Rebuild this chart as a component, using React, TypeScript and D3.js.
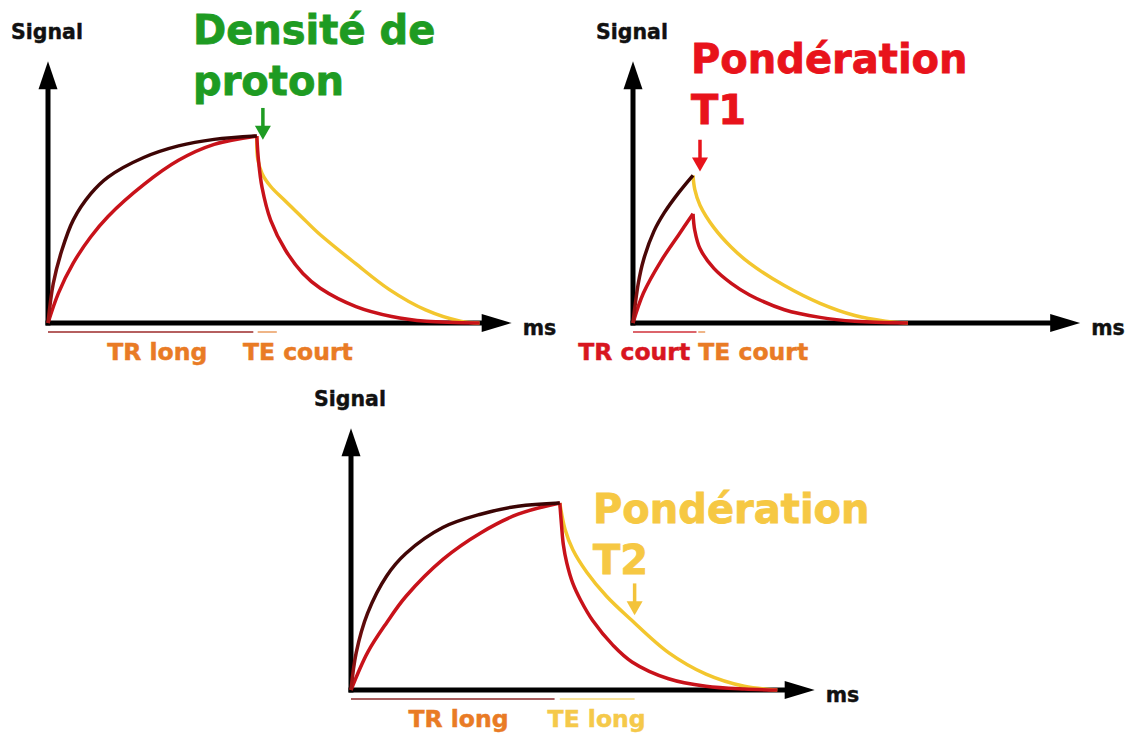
import * as d3 from "d3";

// x in arbitrary ms units, y = signal (1 = full magnetisation)
type Pt = [number, number];

const p1Dark: Pt[] = [[0, 0], [6, 0.21], [16, 0.39], [29, 0.55], [49, 0.69], [69, 0.78], [110, 0.885], [150, 0.947], [191, 0.982], [240, 1]];
const p1Red: Pt[] = [[0, 0], [12, 0.16], [29, 0.32], [49, 0.46], [69, 0.57], [110, 0.74], [150, 0.87], [191, 0.955], [240, 1]];
const p1RedDecay: Pt[] = [[240, 1], [242, 0.867], [246, 0.726], [256, 0.549], [273, 0.389], [293, 0.265], [313, 0.186], [354, 0.088], [395, 0.035], [435, 0.009], [496, 0]];
const p1YellowDecay: Pt[] = [[240, 1], [241, 0.88], [246, 0.8], [256, 0.73], [271, 0.66], [291, 0.57], [311, 0.48], [353, 0.32], [392, 0.18], [434, 0.07], [474, 0.01], [496, 0]];

const p2Dark: Pt[] = [[0, 0], [6, 0.21], [12, 0.336], [24, 0.49], [36, 0.59], [53, 0.7], [69, 0.79]];
const p2Red: Pt[] = [[0, 0], [12, 0.16], [32, 0.33], [53, 0.475], [69, 0.584]];
const p2RedDecay: Pt[] = [[69, 0.584], [71, 0.496], [77, 0.398], [93, 0.292], [113, 0.212], [134, 0.15], [174, 0.071], [215, 0.03], [255, 0.009], [316, 0]];
const p2YellowDecay: Pt[] = [[69, 0.79], [71, 0.715], [77, 0.63], [93, 0.51], [113, 0.405], [134, 0.32], [174, 0.2], [215, 0.105], [255, 0.04], [290, 0.01], [316, 0]];

const p3Dark: Pt[] = [[0, 0], [6, 0.2], [19, 0.41], [41, 0.61], [63, 0.73], [106, 0.87], [149, 0.94], [192, 0.983], [240, 1]];
const p3Red: Pt[] = [[0, 0], [19, 0.2], [41, 0.36], [63, 0.5], [106, 0.7], [149, 0.84], [192, 0.94], [240, 1]];
const p3RedDecay: Pt[] = [[240, 1], [242, 0.88], [244, 0.78], [248, 0.68], [255, 0.57], [264, 0.48], [278, 0.37], [301, 0.24], [323, 0.15], [365, 0.06], [408, 0.02], [452, 0.005], [490, 0]];
const p3YellowDecay: Pt[] = [[240, 1], [246, 0.86], [255, 0.75], [271, 0.63], [294, 0.5], [321, 0.38], [365, 0.2], [408, 0.085], [452, 0.02], [490, 0]];

const FONT = "'DejaVu Sans', Verdana, sans-serif";
const DARK = "#4a0808";
const RED = "#c8121a";
const YELLOW = "#f3c62e";
const ORANGE = "#e97b25";

const x = d3.scaleLinear().domain([0, 500]).range([0, 435]);
const y = d3.scaleLinear().domain([0, 1]).range([0, -187]);
const line = d3
  .line<Pt>()
  .x((d) => x(d[0]))
  .y((d) => y(d[1]))
  .curve(d3.curveCatmullRom.alpha(0.5));

type Seg = { from: number; to: number; color: string };
type Lbl = { text: string; at: number; color: string };
type Title = { lines: string[]; dx: number; dy: number; color: string };

type Panel = {
  id: string;
  ox: number;
  oy: number;
  axisEnd: number;
  dark: Pt[];
  red: Pt[];
  redDecay: Pt[];
  yellowDecay: Pt[];
  underlines: Seg[];
  labels: Lbl[];
  title: Title;
  arrow: { at: number; top: number; tip: number; color: string };
};

const panels: Panel[] = [
  {
    id: "p1",
    ox: 48,
    oy: 323,
    axisEnd: 533,
    dark: p1Dark,
    red: p1Red,
    redDecay: p1RedDecay,
    yellowDecay: p1YellowDecay,
    underlines: [
      { from: 0, to: 236, color: "#9c2a2a" },
      { from: 241, to: 263, color: "#eca36a" },
    ],
    labels: [
      { text: "TR long", at: 68, color: ORANGE },
      { text: "TE court", at: 224, color: ORANGE },
    ],
    title: { lines: ["Densité de", "proton"], dx: 145, dy: -279, color: "#1e9b22" },
    arrow: { at: 247, top: 1.15, tip: 0.98, color: "#1e9b22" },
  },
  {
    id: "p2",
    ox: 633,
    oy: 323,
    axisEnd: 514,
    dark: p2Dark,
    red: p2Red,
    redDecay: p2RedDecay,
    yellowDecay: p2YellowDecay,
    underlines: [
      { from: 0, to: 73, color: "#d0303a" },
      { from: 75, to: 83, color: "#eca36a" },
    ],
    labels: [
      { text: "TR court", at: -63, color: "#d8161f" },
      { text: "TE court", at: 75, color: ORANGE },
    ],
    title: { lines: ["Pondération", "T1"], dx: 58, dy: -250, color: "#e8131b" },
    arrow: { at: 77, top: 0.98, tip: 0.81, color: "#e8131b" },
  },
  {
    id: "p3",
    ox: 351,
    oy: 690,
    axisEnd: 533,
    dark: p3Dark,
    red: p3Red,
    redDecay: p3RedDecay,
    yellowDecay: p3YellowDecay,
    underlines: [
      { from: 0, to: 234, color: "#8c2a2a" },
      { from: 240, to: 326, color: "#f5d878" },
    ],
    labels: [
      { text: "TR long", at: 66, color: ORANGE },
      { text: "TE long", at: 226, color: "#f5c94a" },
    ],
    title: { lines: ["Pondération", "T2"], dx: 242, dy: -167, color: "#f6c843" },
    arrow: { at: 326, top: 0.57, tip: 0.4, color: "#f3c33a" },
  },
];

const Y_TIP = 1.4;

const PanelChart = ({ p }: { p: Panel }) => {
  const xEnd = x(p.axisEnd);
  const yTop = y(Y_TIP);
  const ax = x(p.arrow.at);
  const aTop = y(p.arrow.top);
  const aTip = y(p.arrow.tip);
  return (
    <g transform={`translate(${p.ox},${p.oy})`}>
      {/* axes */}
      <line x1={0} y1={2.5} x2={0} y2={yTop + 26} stroke="#000" strokeWidth={5} />
      <path d={`M0,${yTop} L${-9.5},${yTop + 28} L9.5,${yTop + 28} Z`} fill="#000" />
      <line x1={-2.5} y1={0} x2={xEnd - 27} y2={0} stroke="#000" strokeWidth={5} />
      <path d={`M${xEnd},0 L${xEnd - 30},${-9} L${xEnd - 30},9 Z`} fill="#000" />
      <text x={-37} y={yTop - 22} fontFamily={FONT} fontWeight="bold" fontSize={20.5} fill="#111" stroke="#111" strokeWidth={0.4}>
        Signal
      </text>
      <text x={xEnd + 11} y={12} fontFamily={FONT} fontWeight="bold" fontSize={20.5} fill="#111" stroke="#111" strokeWidth={0.4}>
        ms
      </text>

      {/* curves */}
      <path d={line(p.yellowDecay) ?? ""} fill="none" stroke={YELLOW} strokeWidth={3.5} />
      <path d={line(p.redDecay) ?? ""} fill="none" stroke={RED} strokeWidth={3.5} />
      <path d={line(p.red) ?? ""} fill="none" stroke={RED} strokeWidth={3.5} />
      <path d={line(p.dark) ?? ""} fill="none" stroke={`url(#dark-${p.id})`} strokeWidth={3.5} />

      {/* TR / TE markers */}
      {p.underlines.map((s, i) => (
        <line key={i} x1={x(s.from)} x2={x(s.to)} y1={9} y2={9} stroke={s.color} strokeWidth={1.6} />
      ))}
      {p.labels.map((l) => (
        <text key={l.text} x={x(l.at)} y={37} fontFamily={FONT} fontWeight="bold" fontSize={23.5} fill={l.color} stroke={l.color} strokeWidth={0.5}>
          {l.text}
        </text>
      ))}

      {/* title + arrow */}
      <text fontFamily={FONT} fontWeight="bold" fontSize={40} fill={p.title.color} stroke={p.title.color} strokeWidth={0.8}>
        {p.title.lines.map((t, i) => (
          <tspan key={t} x={p.title.dx} y={p.title.dy + i * 51}>
            {t}
          </tspan>
        ))}
      </text>
      <line x1={ax} x2={ax} y1={aTop} y2={aTip - 12} stroke={p.arrow.color} strokeWidth={3.5} />
      <path d={`M${ax},${aTip} L${ax - 8},${aTip - 14} L${ax + 8},${aTip - 14} Z`} fill={p.arrow.color} />
    </g>
  );
};

export default function App() {
  return (
    <svg
      width={1146}
      height={733}
      viewBox="0 0 1146 733"
      style={{ position: "absolute", left: 0, top: 0, background: "#fff" }}
    >
      <defs>
        {panels.map((p) => (
          <linearGradient key={p.id} id={`dark-${p.id}`} x1="0" y1="0" x2="0" y2="1">
            <stop offset="0%" stopColor="#3a0404" />
            <stop offset="55%" stopColor={DARK} />
            <stop offset="100%" stopColor="#a81616" />
          </linearGradient>
        ))}
      </defs>
      {panels.map((p) => (
        <PanelChart key={p.id} p={p} />
      ))}
    </svg>
  );
}
